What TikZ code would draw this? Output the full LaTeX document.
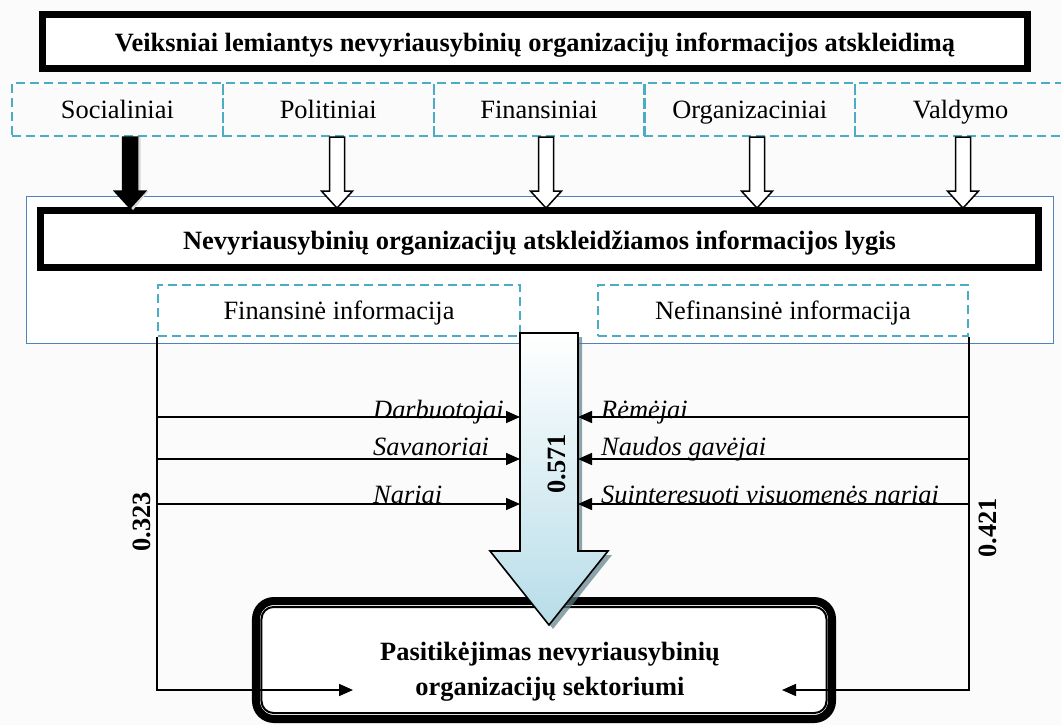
\documentclass[tikz,border=0pt]{standalone}
\usepackage{fontspec}
\setmainfont{Liberation Serif}
\usetikzlibrary{arrows.meta}
\definecolor{dashteal}{HTML}{4BACC6}
\definecolor{frameblue}{HTML}{4F81BD}
\definecolor{arrowblue}{HTML}{B7DDE8}
\definecolor{shadowblue}{HTML}{5F7F8A}
\begin{document}
\begin{tikzpicture}[x=1bp, y=-1bp,
    every node/.style={font=\fontsize{26.5}{30}\selectfont, inner sep=0pt},
    boldbox/.style={draw, line width=7bp, fill=white, text height=22bp, text depth=2bp,
      font=\fontsize{26.5}{30}\selectfont\bfseries},
    dashbox/.style={draw=dashteal, line width=2.2bp, dash pattern=on 9bp off 5bp, text height=21bp, text depth=3bp},
    flow/.style={line width=1.6bp, -{Triangle[length=14bp,width=12bp]}},
    sidelabel/.style={font=\fontsize{26.5}{30}\selectfont\itshape, anchor=base west},
    weight/.style={font=\fontsize{26.5}{30}\selectfont\bfseries, rotate=90}]

  % Background
  \useasboundingbox (0,0) rectangle (1061,725);
  \fill[gray!3] (0,0) rectangle (1061,725);

  % Factors
  \node[boldbox, minimum width=985bp, minimum height=54bp] (title) at (535,41.5)
    {Veiksniai lemiantys nevyriausybinių organizacijų informacijos atskleidimą};
  \foreach \name [count=\i] in {Socialiniai, Politiniai, Finansiniai, Organizaciniai, Valdymo}
    \node[dashbox, minimum width=210.8bp, minimum height=53bp] (f\i) at ({12+210.8*(\i-0.5)},109.5) {\name};

  % Disclosure level
  \node[draw=frameblue, line width=1bp, fill=white, minimum width=1026bp, minimum height=146bp] (frame) at (540,270) {};
  \node[boldbox, minimum width=998bp, minimum height=57bp] (level) at (539.5,239)
    {Nevyriausybinių organizacijų atskleidžiamos informacijos lygis};
  \node[dashbox, minimum width=362bp, minimum height=51bp] (fin) at (339,310.5) {Finansinė informacija};
  \node[dashbox, minimum width=370bp, minimum height=51bp] (nefin) at (783,310.5) {Nefinansinė informacija};

  % Factor arrows
  \fill[gray!30] (f1.south -| 133,0) ++(-7.5,0) -- ++(0,54) -- ++(-8,0) -- ++(15.5,19) -- ++(15.5,-19) -- ++(-8,0) -- ++(0,-54) -- cycle;
  \foreach \x/\i/\c in {130/1/black, 337/2/white, 546/3/white, 757/4/white, 963/5/white}
    \draw[line width=1.5bp, fill=\c] (f\i.south -| \x,0) ++(-7.5,0) -- ++(0,54) -- ++(-8,0) -- ++(15.5,17) -- ++(15.5,-17) -- ++(-8,0) -- ++(0,-54) -- cycle;

  % Trust
  \node[draw, line width=8bp, rounded corners=18bp, fill=white, minimum width=576bp, minimum height=118bp] (trust) at (544,660) {};
  \draw[line width=2bp, rounded corners=12bp] ([shift={(9.5,10)}]trust.north west) rectangle ([shift={(-9.5,-10)}]trust.south east);
  \node[align=center, font=\fontsize{26.5}{35}\selectfont\bfseries] (trusttext) at (550,672)
    {Pasitikėjimas nevyriausybinių\\organizacijų sektoriumi};

  % Big arrow
  \fill[shadowblue, opacity=0.7] (524,337) -- (524,555) -- (494,555) -- (553,629) -- (612,555) -- (582,555) -- (582,337) -- cycle;
  \draw[line width=1.6bp, top color=white, bottom color=arrowblue]
    (520,333) coordinate (bigl) -- (520,551) -- (490,551) -- (549,625) -- (608,551) -- (578,551) -- (578,333) coordinate (bigr) -- cycle;
  \node[weight] (w571) at (557,464) {0.571};

  % Stakeholders
  \foreach \y/\b/\lname/\rname in {417/418/Darbuotojai/Rėmėjai, 459/455/Savanoriai/Naudos gavėjai, 504/503/Nariai/Suinteresuoti visuomenės nariai} {
    \draw[flow] (fin.south west |- 0,\y) -- (bigl |- 0,\y);
    \draw[flow] (nefin.south east |- 0,\y) -- (bigr |- 0,\y);
    \node[sidelabel] at (373,\b) {\lname};
    \node[sidelabel] at (601,\b) {\rname};
  }

  % Direct paths
  \coordinate (inl) at (353,690);
  \coordinate (inr) at (782,690);
  \draw[flow] (fin.south west) |- (inl);
  \draw[flow] (nefin.south east) |- (inr);
  \node[weight] (w323) at (142,522) {0.323};
  \node[weight] (w421) at (988,528) {0.421};
\end{tikzpicture}
\end{document}
